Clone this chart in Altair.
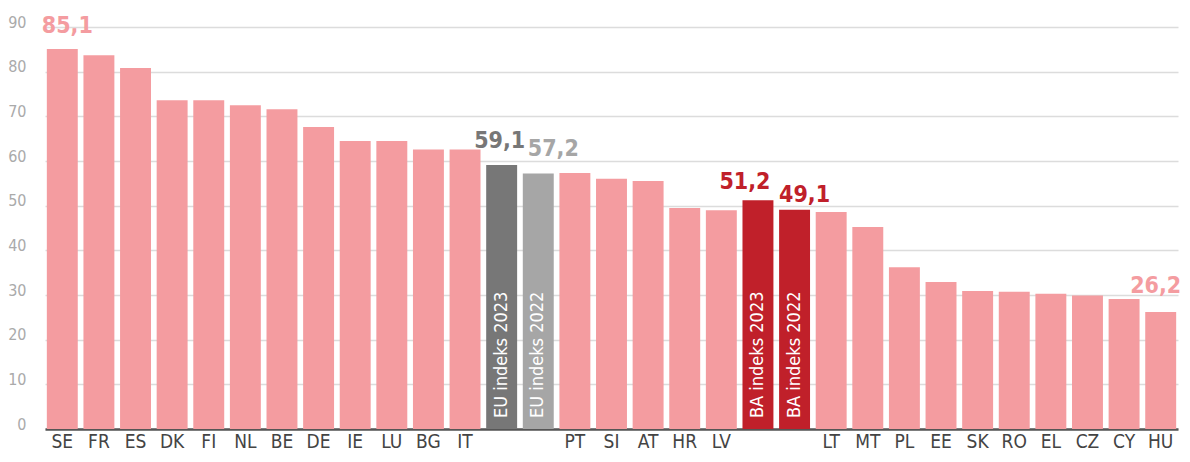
import json
import altair as alt
import pandas as pd

# ---- data -------------------------------------------------------------
categories = ["SE", "FR", "ES", "DK", "FI", "NL", "BE", "DE", "IE", "LU", "BG", "IT",
              "EU indeks 2023", "EU indeks 2022",
              "PT", "SI", "AT", "HR", "LV",
              "BA indeks 2023", "BA indeks 2022",
              "LT", "MT", "PL", "EE", "SK", "RO", "EL", "CZ", "CY", "HU"]
values = [85.1, 83.7, 80.8, 73.6, 73.6, 72.5, 71.6, 67.6, 64.5, 64.5, 62.6, 62.6,
          59.1, 57.2,
          57.3, 56.0, 55.5, 49.5, 49.0,
          51.2, 49.1,
          48.6, 45.2, 36.2, 32.9, 30.9, 30.7, 30.3, 29.9, 29.1, 26.2]
kinds = (["country"] * 12 + ["eu23", "eu22"] + ["country"] * 5 +
         ["ba23", "ba22"] + ["country"] * 10)
y_ticks = [0, 10, 20, 30, 40, 50, 60, 70, 80, 90]

df = pd.DataFrame({"cat": categories, "value": values, "kind": kinds})
df["label"] = [f"{v:.1f}".replace(".", ",") for v in values]

# ---- style ------------------------------------------------------------
FONT = "Liberation Sans Narrow, DejaVu Sans Condensed, Roboto, sans-serif"
PINK = "#F49CA0"
DGREY = "#777777"
LGREY = "#A6A6A6"
RED = "#C0202A"
kind_domain = ["country", "eu23", "eu22", "ba23", "ba22"]
kind_range = [PINK, DGREY, LGREY, RED, RED]

hidden = [c for c, k in zip(categories, kinds) if k != "country"]
label_expr = f"indexof({json.dumps(hidden)}, datum.value) >= 0 ? '' : datum.label"

x_enc = alt.X(
    "cat:N", sort=categories,
    scale=alt.Scale(paddingInner=0.155, paddingOuter=0.05),
    axis=alt.Axis(title=None, labelExpr=label_expr, labelAngle=0, labelFontSize=19,
                  labelColor="#444444", labelFont=FONT, labelPadding=3, ticks=False,
                  domainColor="#555555", domainWidth=2.5, grid=False),
)
y_enc = alt.Y(
    "value:Q", scale=alt.Scale(domain=[0, 90], nice=False, zero=True),
    axis=alt.Axis(values=y_ticks, title=None, domain=False, ticks=False,
                  labelColor="#AAAAAA", labelFontSize=16, labelFont=FONT,
                  labelPadding=19, labelBaseline="alphabetic",
                  gridColor="#DCDCDC", gridWidth=1.5),
)

base = alt.Chart(df)

bars = base.mark_bar().encode(
    x=x_enc, y=y_enc,
    color=alt.Color("kind:N", scale=alt.Scale(domain=kind_domain, range=kind_range), legend=None),
)

inner = base.transform_filter(alt.datum.kind != "country").mark_text(
    angle=270, align="left", baseline="middle", dx=11, color="white",
    fontSize=18, font=FONT,
).encode(x=alt.X("cat:N", sort=categories), y=alt.datum(0), text="cat:N")

# value labels: (category, colour, dx, dy)
label_styles = [
    ("SE", PINK, 5, -16),
    ("EU indeks 2023", DGREY, -2, -17),
    ("EU indeks 2022", LGREY, 15, -18),
    ("BA indeks 2023", RED, -13, -11),
    ("BA indeks 2022", RED, 10, -8),
    ("HU", PINK, -5, -19),
]
value_layers = []
for cat, col, dx, dy in label_styles:
    value_layers.append(
        base.transform_filter(alt.datum.cat == cat).mark_text(
            align="center", baseline="alphabetic", dx=dx, dy=dy,
            fontSize=23, fontWeight="bold", font=FONT, color=col,
        ).encode(x=alt.X("cat:N", sort=categories), y="value:Q", text="label:N")
    )

chart = alt.layer(bars, inner, *value_layers).properties(
    width=1133, height=402,
    autosize=alt.AutoSizeParams(type="none"),
    padding={"left": 37, "top": 19, "right": 4, "bottom": 25},
).configure(font=FONT).configure_view(stroke=None)

chart.save("out.html", embed_options={"renderer": "svg", "actions": False})
